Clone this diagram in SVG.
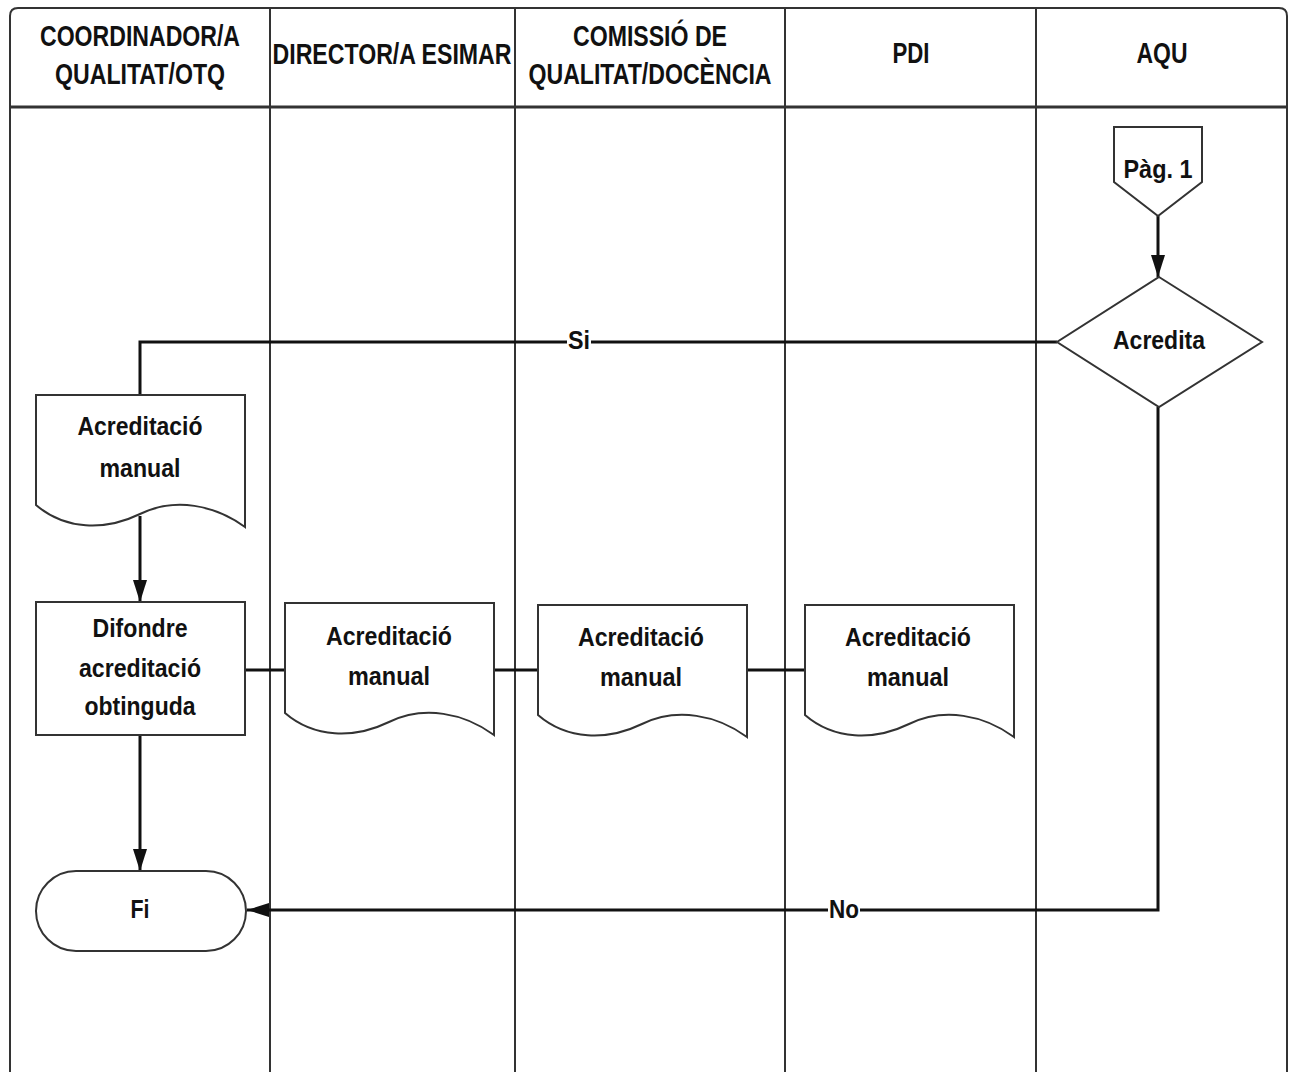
<svg xmlns="http://www.w3.org/2000/svg" width="1293" height="1072" viewBox="0 0 1293 1072">
<style>
.t{font-family:"Liberation Sans",Arial,sans-serif;font-weight:bold;fill:#111;text-anchor:middle}
.h{font-size:29px}
.b{font-size:26px}
.shape{fill:#fff;stroke:#333;stroke-width:2}
.lane{fill:none;stroke:#333;stroke-width:2}
.conn{fill:none;stroke:#111;stroke-width:3}
</style>
<defs>
<marker id="arrow" markerWidth="22" markerHeight="14" refX="22" refY="7" orient="auto" markerUnits="userSpaceOnUse"><path d="M0,0 L22,7 L0,14 Z" fill="#111"/></marker>
<path id="docShape" d="M0,0 H209 V132 C179,110 139,102 104,119 C69,136 29,135 0,110 Z"/>
</defs>
<rect width="1293" height="1072" fill="#fff"/>
<g id="lanes">
<path class="lane" d="M10,1072 V16 Q10,8 18,8 H1279 Q1287,8 1287,16 V1072"/>
<path class="lane" d="M10,107 H1287" style="stroke-width:3"/>
<path class="lane" d="M270,8 V1072 M515,8 V1072 M785,8 V1072 M1036,8 V1072"/>
<text class="t h" x="140" y="46" textLength="200" lengthAdjust="spacingAndGlyphs">COORDINADOR/A</text>
<text class="t h" x="140" y="84" textLength="170" lengthAdjust="spacingAndGlyphs">QUALITAT/OTQ</text>
<text class="t h" x="392" y="64" textLength="239" lengthAdjust="spacingAndGlyphs">DIRECTOR/A ESIMAR</text>
<text class="t h" x="650" y="46" textLength="154" lengthAdjust="spacingAndGlyphs">COMISSIÓ DE</text>
<text class="t h" x="650" y="84" textLength="243" lengthAdjust="spacingAndGlyphs">QUALITAT/DOCÈNCIA</text>
<text class="t h" x="911" y="63" textLength="37" lengthAdjust="spacingAndGlyphs">PDI</text>
<text class="t h" x="1162" y="63" textLength="51" lengthAdjust="spacingAndGlyphs">AQU</text>
</g>
<g id="connectors">
<path class="conn" d="M1158,216 V277" marker-end="url(#arrow)"/>
<path class="conn" d="M1057,342 H140 V395"/>
<path class="conn" d="M140,516 V602" marker-end="url(#arrow)"/>
<path class="conn" d="M245,670 H285 M494,670 H538 M747,670 H805"/>
<path class="conn" d="M140,735 V871" marker-end="url(#arrow)"/>
<path class="conn" d="M1158,407 V910 H247" marker-end="url(#arrow)"/>
<rect x="567" y="328" width="24" height="26" fill="#fff"/>
<text class="t b" x="579" y="349" textLength="22" lengthAdjust="spacingAndGlyphs">Si</text>
<rect x="828" y="896" width="32" height="26" fill="#fff"/>
<text class="t b" x="844" y="918" textLength="30" lengthAdjust="spacingAndGlyphs">No</text>
</g>
<g id="pag1">
<path class="shape" d="M1114,127 H1202 V182 L1158,216 L1114,182 Z"/>
<text class="t b" x="1158" y="178" textLength="69" lengthAdjust="spacingAndGlyphs">Pàg. 1</text>
</g>
<g id="acredita">
<path class="shape" d="M1159,277 L1262,342 L1159,407 L1057,342 Z"/>
<text class="t b" x="1159" y="349" textLength="92" lengthAdjust="spacingAndGlyphs">Acredita</text>
</g>
<g id="doc1">
<use href="#docShape" class="shape" x="36" y="395"/>
<text class="t b" x="140" y="435" textLength="125" lengthAdjust="spacingAndGlyphs">Acreditació</text>
<text class="t b" x="140" y="477" textLength="81" lengthAdjust="spacingAndGlyphs">manual</text>
</g>
<g id="difondre">
<rect class="shape" x="36" y="602" width="209" height="133"/>
<text class="t b" x="140" y="637" textLength="95" lengthAdjust="spacingAndGlyphs">Difondre</text>
<text class="t b" x="140" y="677" textLength="122" lengthAdjust="spacingAndGlyphs">acreditació</text>
<text class="t b" x="140" y="715" textLength="111" lengthAdjust="spacingAndGlyphs">obtinguda</text>
</g>
<g id="doc2">
<use href="#docShape" class="shape" x="285" y="603"/>
<text class="t b" x="389" y="645" textLength="126" lengthAdjust="spacingAndGlyphs">Acreditació</text>
<text class="t b" x="389" y="685" textLength="82" lengthAdjust="spacingAndGlyphs">manual</text>
</g>
<g id="doc3">
<use href="#docShape" class="shape" x="538" y="605"/>
<text class="t b" x="641" y="646" textLength="126" lengthAdjust="spacingAndGlyphs">Acreditació</text>
<text class="t b" x="641" y="686" textLength="82" lengthAdjust="spacingAndGlyphs">manual</text>
</g>
<g id="doc4">
<use href="#docShape" class="shape" x="805" y="605"/>
<text class="t b" x="908" y="646" textLength="126" lengthAdjust="spacingAndGlyphs">Acreditació</text>
<text class="t b" x="908" y="686" textLength="82" lengthAdjust="spacingAndGlyphs">manual</text>
</g>
<g id="fi">
<rect class="shape" x="36" y="871" width="210" height="80" rx="40" ry="40"/>
<text class="t b" x="140" y="918" textLength="19" lengthAdjust="spacingAndGlyphs">Fi</text>
</g>
</svg>
